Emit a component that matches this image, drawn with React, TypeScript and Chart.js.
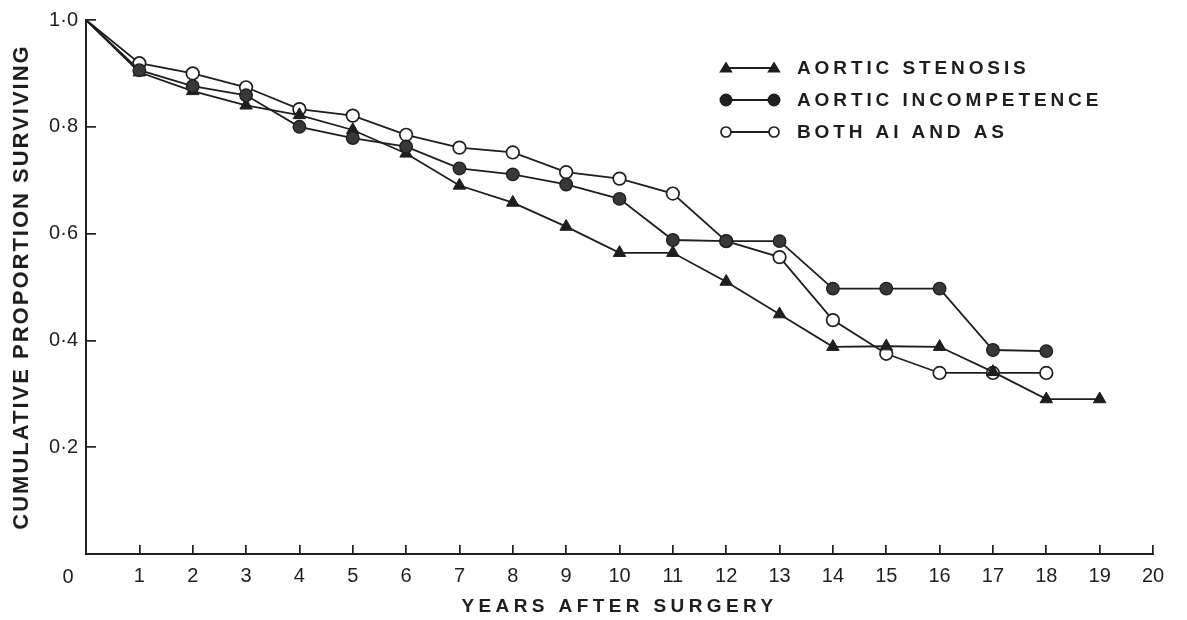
import React, { useEffect, useRef } from 'react';
import { Chart, registerables, LinearScale } from 'chart.js';

Chart.register(...registerables);

// ---- data ----
const YEARS = [0, 1, 2, 3, 4, 5, 6, 7, 8, 9, 10, 11, 12, 13, 14, 15, 16, 17, 18, 19];
const AORTIC_STENOSIS = [1.0, 0.902, 0.867, 0.84, 0.822, 0.794, 0.75, 0.69, 0.658, 0.613, 0.564, 0.564, 0.51, 0.449, 0.388, 0.389, 0.388, 0.341, 0.29, 0.29];
const AORTIC_INCOMPETENCE = [1.0, 0.906, 0.876, 0.859, 0.8, 0.779, 0.763, 0.722, 0.711, 0.692, 0.665, 0.588, 0.586, 0.586, 0.497, 0.497, 0.497, 0.382, 0.38, null];
const BOTH_AI_AND_AS = [1.0, 0.919, 0.9, 0.874, 0.833, 0.821, 0.785, 0.761, 0.752, 0.715, 0.703, 0.675, 0.586, 0.556, 0.438, 0.375, 0.339, 0.339, 0.339, null];
const SERIES_LABELS = ['AORTIC STENOSIS', 'AORTIC INCOMPETENCE', 'BOTH AI AND AS'];
const X_TITLE = 'YEARS AFTER SURGERY';
const Y_TITLE = 'CUMULATIVE PROPORTION SURVIVING';

const INK = '#1e1e1e';
const FONT = '"Liberation Sans", Arial, Helvetica, sans-serif';

class SpacedLinearScale extends LinearScale {
  static id = 'spacedLinear';
  static defaults = LinearScale.defaults;
  drawTitle() {
    const ctx = (this as any).ctx;
    ctx.save();
    ctx.letterSpacing = (this as any).axis === 'x' ? '4.4px' : '2px';
    super.drawTitle();
    ctx.restore();
  }
}
Chart.register(SpacedLinearScale);

function toPoints(arr: (number | null)[]) {
  const out: { x: number; y: number }[] = [];
  arr.forEach((v, i) => {
    if (v !== null) out.push({ x: YEARS[i], y: v });
  });
  return out;
}

function drawMarker(ctx: CanvasRenderingContext2D, kind: string, x: number, y: number, r: number) {
  ctx.beginPath();
  if (kind === 'triangle') {
    ctx.moveTo(x, y - r);
    ctx.lineTo(x + r * 1.05, y + r * 0.7);
    ctx.lineTo(x - r * 1.05, y + r * 0.7);
    ctx.closePath();
    ctx.fillStyle = INK;
    ctx.fill();
  } else if (kind === 'filled') {
    ctx.arc(x, y, r, 0, Math.PI * 2);
    ctx.fillStyle = INK;
    ctx.fill();
  } else {
    ctx.arc(x, y, r, 0, Math.PI * 2);
    ctx.fillStyle = '#fff';
    ctx.fill();
    ctx.lineWidth = 1.7;
    ctx.strokeStyle = INK;
    ctx.stroke();
  }
}

const legendPlugin = {
  id: 'paperLegend',
  afterDraw(chart: any) {
    const ctx: CanvasRenderingContext2D = chart.ctx;
    const kinds = ['triangle', 'filled', 'open'];
    const radii = [6.5, 6.5, 5];
    const rows = [68, 100, 132];
    ctx.save();
    SERIES_LABELS.forEach((label, i) => {
      const y = rows[i];
      ctx.beginPath();
      ctx.moveTo(726, y);
      ctx.lineTo(774, y);
      ctx.lineWidth = 1.8;
      ctx.strokeStyle = INK;
      ctx.stroke();
      drawMarker(ctx, kinds[i], 726, y, radii[i]);
      drawMarker(ctx, kinds[i], 774, y, radii[i]);
      ctx.fillStyle = INK;
      ctx.font = `bold 19px ${FONT}`;
      (ctx as any).letterSpacing = '3.9px';
      ctx.textAlign = 'left';
      ctx.textBaseline = 'middle';
      ctx.fillText(label, 797, y + 1);
      (ctx as any).letterSpacing = '0px';
    });
    // shared origin label
    const xs = chart.scales.x;
    ctx.font = `20px ${FONT}`;
    ctx.textAlign = 'center';
    ctx.textBaseline = 'middle';
    ctx.fillStyle = INK;
    ctx.fillText('0', xs.getPixelForValue(0) - 18, 577);
    ctx.restore();
  },
};

export default function App() {
  const ref = useRef<HTMLCanvasElement | null>(null);
  useEffect(() => {
    if (!ref.current) return;
    const r = (c: any) => (c.dataIndex === 0 ? 0 : 6.3);
    const rt = (c: any) => (c.dataIndex === 0 ? 0 : 7.2);
    const chart = new Chart(ref.current, {
      type: 'line',
      data: {
        datasets: [
          {
            label: SERIES_LABELS[0],
            data: toPoints(AORTIC_STENOSIS),
            borderColor: INK,
            borderWidth: 1.8,
            backgroundColor: INK,
            pointStyle: 'triangle',
            pointRadius: rt,
            pointBackgroundColor: INK,
            pointBorderColor: INK,
            pointBorderWidth: 1,
            order: 1,
            clip: false,
          },
          {
            label: SERIES_LABELS[1],
            data: toPoints(AORTIC_INCOMPETENCE),
            borderColor: INK,
            borderWidth: 1.8,
            backgroundColor: INK,
            pointStyle: 'circle',
            pointRadius: r,
            pointBackgroundColor: '#383838',
            pointBorderColor: INK,
            pointBorderWidth: 1.3,
            order: 0,
            clip: false,
          },
          {
            label: SERIES_LABELS[2],
            data: toPoints(BOTH_AI_AND_AS),
            borderColor: INK,
            borderWidth: 1.8,
            backgroundColor: '#fff',
            pointStyle: 'circle',
            pointRadius: r,
            pointBackgroundColor: '#fff',
            pointBorderColor: INK,
            pointBorderWidth: 1.7,
            order: 2,
            clip: false,
          },
        ],
      },
      options: {
        responsive: true,
        maintainAspectRatio: false,
        animation: false,
        layout: { padding: { top: 20, right: 34, bottom: 0, left: 0 } },
        plugins: {
          legend: { display: false },
          tooltip: { enabled: false },
        },
        elements: { line: { tension: 0 } },
        scales: {
          x: {
            type: 'spacedLinear' as any,
            min: 0,
            max: 20,
            afterFit: (s: any) => {
              s.height = 66;
              s.paddingLeft = 0;
              s.paddingRight = 0;
            },
            grid: {
              drawOnChartArea: false,
              drawTicks: true,
              tickLength: -9,
              color: INK,
              lineWidth: 1.7,
            },
            border: { display: true, color: INK, width: 2 },
            ticks: {
              stepSize: 1,
              autoSkip: false,
              maxRotation: 0,
              padding: 19,
              color: INK,
              font: { family: FONT, size: 20 },
              callback: (v: any) => (v === 0 ? '' : String(v)),
            },
            title: {
              display: true,
              text: X_TITLE,
              color: INK,
              font: { family: FONT, size: 19, weight: 'bold' },
              padding: { top: 0, bottom: 2 },
            },
          },
          y: {
            type: 'spacedLinear' as any,
            min: 0,
            max: 1,
            afterFit: (s: any) => {
              s.width = 86;
              s.paddingTop = 0;
              s.paddingBottom = 0;
            },
            grid: {
              drawOnChartArea: false,
              drawTicks: true,
              tickLength: -10,
              color: INK,
              lineWidth: 1.7,
            },
            border: { display: true, color: INK, width: 2 },
            ticks: {
              stepSize: 0.2,
              padding: 18,
              color: INK,
              font: { family: FONT, size: 20 },
              callback: (v: any) => (v === 0 ? '' : Number(v).toFixed(1).replace('.', '·')),
            },
            title: {
              display: true,
              text: Y_TITLE,
              color: INK,
              font: { family: FONT, size: 22, weight: 'bold' },
              padding: { top: 9, bottom: 0 },
            },
          },
        },
      },
      plugins: [legendPlugin],
    });
    return () => chart.destroy();
  }, []);

  return (
    <div style={{ position: 'fixed', left: 0, top: 0, width: 1187, height: 620, background: '#fff' }}>
      <canvas ref={ref} />
    </div>
  );
}
